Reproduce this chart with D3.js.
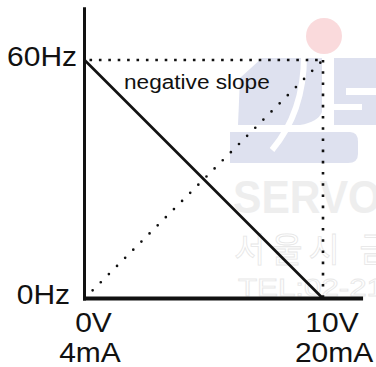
<!DOCTYPE html>
<html>
<head>
<meta charset="utf-8">
<script src="https://cdn.jsdelivr.net/npm/d3@7"></script>
<style>
  html, body { margin: 0; padding: 0; background: #fff; }
  svg { display: block; }
</style>
</head>
<body>
<script>
// Analog input (0-10 V / 4-20 mA) to output frequency, negative slope setting.
const voltage = [0, 10];               // V at the two ends of the input span
const currentLabels = ["4mA", "20mA"]; // matching current input
const freqTicks = [0, 60];             // Hz
const negativeSlope = [60, 0];         // Hz at 0 V and 10 V
const positiveSlope = [0, 60];         // reference (dotted) characteristic
const axisReach = { volt: 11.68, hz: 73.3 };
const slopeTitle = "negative slope";

const W = 376, H = 367;
const svg = d3.select("body").append("svg")
  .attr("width", W).attr("height", H)
  .style("font-family", "'Liberation Sans', Arial, sans-serif");

svg.append("rect").attr("width", W).attr("height", H).attr("fill", "#fff");

const x = d3.scaleLinear().domain([0, 10]).range([84.5, 323]);
const y = d3.scaleLinear().domain([0, 60]).range([298.5, 60]);

// ---- faint company logo in the background ----
const wm = svg.append("g").attr("class", "watermark");
wm.append("circle").attr("cx", 324).attr("cy", 36).attr("r", 18).attr("fill", "#fadadc");
const lav = "#dee1ef";
wm.append("path").attr("fill", lav)
  .attr("d", "M262,58 L322,58 L322,112 Q318,122 300,125 L238,125 L240,78 Z");
wm.append("path").attr("fill", lav)
  .attr("d", "M230,132 L350,132 Q358,132 358,142 L358,154 Q358,163 348,163 L230,163 Z");
wm.append("path").attr("fill", lav)
  .attr("d", "M334,58 L376,58 L376,88 L346,88 L346,95 L376,95 L376,125 L334,125 L334,110 L362,110 L362,104 L334,104 Z");
wm.append("path").attr("fill", "none").attr("stroke", "#fff").attr("stroke-width", 6)
  .attr("d", "M304,56 Q304,112 272,150");
wm.append("text").attr("x", 233).attr("y", 213)
  .attr("font-size", 46).attr("font-weight", "bold").attr("fill", "#eeeeee")
  .attr("textLength", 160).attr("lengthAdjust", "spacingAndGlyphs").text("SERVO/");
wm.append("text").attr("x", 234).attr("y", 262)
  .attr("font-family", "'Noto Sans CJK KR', sans-serif")
  .attr("font-size", 34).attr("fill", "none").attr("stroke", "#e6e6e6").attr("stroke-width", 0.8)
  .attr("letter-spacing", 6).text("서울시 금");
wm.append("text").attr("x", 238).attr("y", 296)
  .attr("font-size", 24).attr("fill", "none").attr("stroke", "#e8e8e8").attr("stroke-width", 0.8)
  .attr("textLength", 146).attr("lengthAdjust", "spacingAndGlyphs").text("TEL:02-21");

// ---- guide lines ----
const ink = "#111";
const plot = svg.append("g");

plot.append("line") // 60 Hz level
  .attr("x1", x(voltage[0]) + 5).attr("x2", x(voltage[1]))
  .attr("y1", y(freqTicks[1])).attr("y2", y(freqTicks[1]))
  .attr("stroke", ink).attr("stroke-width", 2.6).attr("stroke-dasharray", "2.6,6.8");

plot.append("line") // 10 V marker
  .attr("x1", x(voltage[1])).attr("x2", x(voltage[1]))
  .attr("y1", y(freqTicks[1])).attr("y2", y(freqTicks[0]))
  .attr("stroke", ink).attr("stroke-width", 2.6).attr("stroke-dasharray", "2.6,8.6");

const pts = (vals) => voltage.map((v, i) => [x(v), y(vals[i])]);
const line = d3.line();

plot.append("path") // dotted positive characteristic
  .attr("d", line(pts(positiveSlope)))
  .attr("fill", "none").attr("stroke", ink).attr("stroke-width", 2.7)
  .attr("stroke-linecap", "round").attr("stroke-dasharray", "0,11.5");

plot.append("path") // negative slope characteristic
  .attr("d", line(pts(negativeSlope)))
  .attr("fill", "none").attr("stroke", ink).attr("stroke-width", 2.6);

// ---- axes ----
plot.append("line")
  .attr("x1", x(0)).attr("x2", x(0))
  .attr("y1", y(0) + 2).attr("y2", y(axisReach.hz))
  .attr("stroke", ink).attr("stroke-width", 3);
plot.append("line")
  .attr("x1", x(0) - 1.5).attr("x2", x(axisReach.volt))
  .attr("y1", y(0)).attr("y2", y(0))
  .attr("stroke", ink).attr("stroke-width", 4);

const stretch = 1.07;
function widen(sel, k) {
  sel.each(function () {
    const w = this.getComputedTextLength();
    d3.select(this).attr("textLength", w * k).attr("lengthAdjust", "spacingAndGlyphs");
  });
}

// frequency labels
const yShift = { 60: -7.5, 0: -14.5 };
const yAxis = svg.append("g")
  .attr("transform", `translate(${x(0)},0)`)
  .call(d3.axisLeft(y).tickValues(freqTicks).tickSize(0).tickPadding(0)
    .tickFormat(d => d + "Hz"));
yAxis.select(".domain").remove();
yAxis.selectAll("text")
  .attr("x", d => yShift[d]).attr("dy", "0.32em").attr("y", -3.5)
  .attr("font-size", 28).attr("font-family", "'Liberation Sans', Arial, sans-serif")
  .attr("fill", ink)
  .call(widen, stretch);

// input labels: voltage over current
const xAxis = svg.append("g")
  .attr("transform", `translate(0,${y(0)})`)
  .call(d3.axisBottom(x).tickValues(voltage).tickSize(0).tickFormat(d => d + "V"));
xAxis.select(".domain").remove();
xAxis.selectAll(".tick text")
  .attr("y", 33).attr("dy", 0).attr("x", 8.5)
  .attr("font-size", 28).attr("font-family", "'Liberation Sans', Arial, sans-serif")
  .attr("fill", ink)
  .call(widen, stretch);
xAxis.selectAll(".tick").append("text")
  .attr("y", 63).attr("x", (d, i) => [5, 10.5][i])
  .attr("text-anchor", "middle")
  .attr("font-size", 28).attr("font-family", "'Liberation Sans', Arial, sans-serif")
  .attr("fill", ink)
  .text((d, i) => currentLabels[i])
  .call(widen, stretch);

// slope caption
svg.append("text")
  .attr("x", 124).attr("y", 89)
  .attr("font-size", 20).attr("fill", ink)
  .text(slopeTitle)
  .call(widen, 1.13);
</script>
</body>
</html>
